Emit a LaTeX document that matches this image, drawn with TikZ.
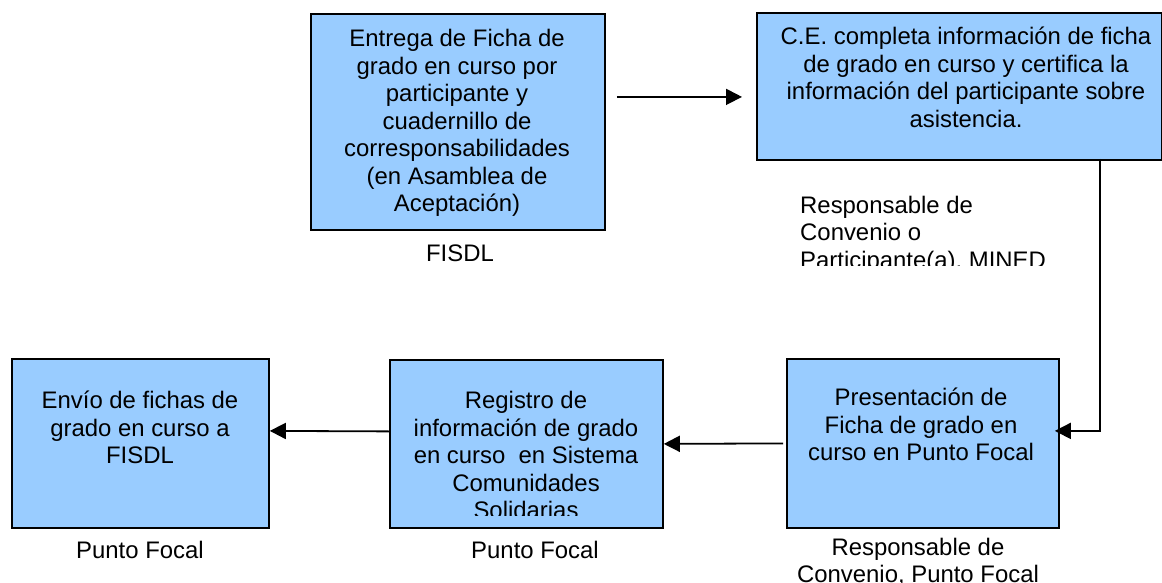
\documentclass[tikz,border=0pt]{standalone}
\usepackage{fontspec}
\setmainfont{Liberation Sans}
\usetikzlibrary{arrows.meta}
\definecolor{boxblue}{RGB}{153,204,255}
\begin{document}
\begin{tikzpicture}[x=1pt,y=-1pt,
  box/.style={draw=black,line width=1.8pt,fill=boxblue,inner sep=0pt,anchor=north west},
  txt/.style={align=center,inner sep=0pt,anchor=north,font=\fontsize{23.9}{27.5}\selectfont},
  lbl/.style={inner sep=0pt,font=\fontsize{23.9}{27.5}\selectfont},
  arr/.style={line width=1.8pt,-{Triangle[length=16pt,width=16pt]}}]
\useasboundingbox (0,0) rectangle (1162,583);
\fill[white] (0,0) rectangle (1162,583);

% boxes
\node[box,minimum width=294pt,minimum height=216pt] (A) at (310,13) {};
\node[box,minimum width=404.5pt,minimum height=147pt] (B) at (756,12) {};
\node[box,minimum width=272pt,minimum height=169pt] (C) at (786,358) {};
\node[box,minimum width=273pt,minimum height=168pt] (D) at (389,359) {};
\node[box,minimum width=257pt,minimum height=169pt] (E) at (11,358) {};

% box texts
\node[txt] (At) at (457,29) {Entrega de Ficha de\\grado en curso por\\participante y\\cuadernillo de\\corresponsabilidades\\(en Asamblea de\\Aceptación)};
\node[txt] (Bt) at (966,27) {C.E. completa información de ficha\\de grado en curso y certifica la\\información del participante sobre\\asistencia.};
\node[txt] (Ct) at (921,388) {Presentación de\\Ficha de grado en\\curso en Punto Focal};
\begin{scope}
\clip (389,359) rectangle (662,515);
\node[txt] (Dt) at (526,391) {Registro de\\información de grado\\en curso\ \ en Sistema\\Comunidades\\Solidarias};
\end{scope}
\node[txt] (Et) at (140,391) {Envío de fichas de\\grado en curso a\\FISDL};

% labels
\node[lbl,anchor=base] (Al) at (460,261.6) {FISDL};
\begin{scope}
\clip (780,180) rectangle (1090,265);
\node[lbl,align=left,anchor=north west] (Bl) at (800,195.6) {Responsable de\\Convenio o\\Participante(a), MINED};
\end{scope}
\node[lbl,align=center,anchor=north] (Cl) at (918,537.8) {Responsable de\\Convenio, Punto Focal};
\node[lbl,anchor=base] (Dl) at (535,558.6) {Punto Focal};
\node[lbl,anchor=base] (El) at (140,558.6) {Punto Focal};

% connectors
\draw[arr] ([xshift=11pt,yshift=25pt]A.east) -- ([xshift=-14pt,yshift=-10.5pt]B.west);
\coordinate (bdown) at (1100,159);
\draw[arr] (bdown) |- ([xshift=-5pt,yshift=12.5pt]C.east);
\draw[arr] ([xshift=-3pt]C.west) -- (D.east);
\draw[arr] ([yshift=12.5pt]D.west) -- ([yshift=12.5pt]E.east);
\end{tikzpicture}
\end{document}
